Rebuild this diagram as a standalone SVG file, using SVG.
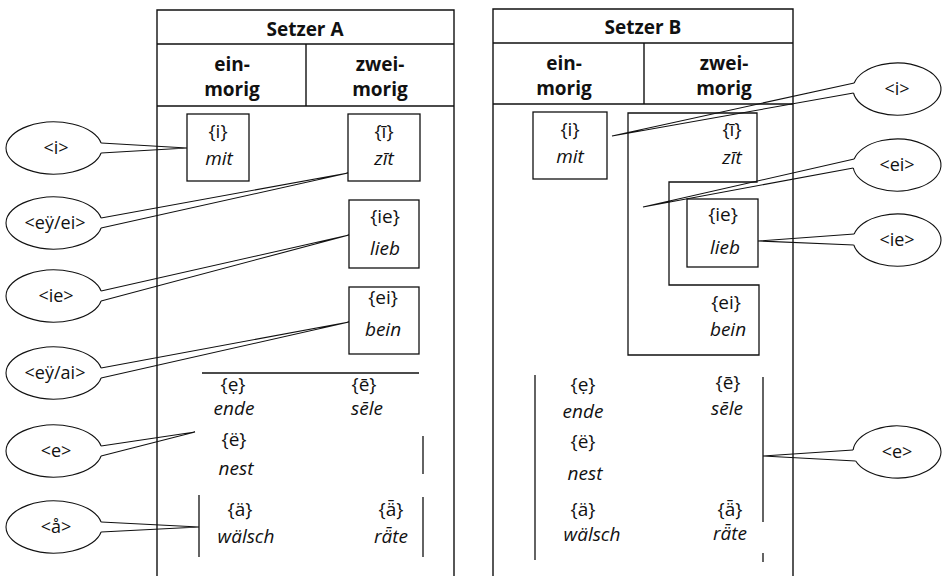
<svg xmlns="http://www.w3.org/2000/svg" width="945" height="576" viewBox="0 0 945 576">
<style>
.fr{fill:none;stroke:#111;stroke-width:1.4}
.bx{fill:none;stroke:#111;stroke-width:1.3}
.ln{fill:none;stroke:#111;stroke-width:1.3}
.el{fill:none;stroke:#111;stroke-width:1.1}
.cn{fill:none;stroke:#111;stroke-width:1.1;stroke-linejoin:miter}
text{font-family:"Open Sans","Noto Sans","DejaVu Sans",sans-serif;font-size:19px;fill:#111;text-anchor:middle}
.h{font-weight:700}
.it{font-style:italic}
.lb{font-size:18px}
</style>
<rect width="945" height="576" fill="#fff"/>

<g id="setzer-a">
<path class="fr" d="M157,576 V10 H454 V576 M157,44 H454 M157,106 H454 M306,44 V106"/>
<text class="h" x="305" y="36">Setzer A</text>
<text class="h" x="232" y="71">ein-</text>
<text class="h" x="232" y="96">morig</text>
<text class="h" x="380" y="71">zwei-</text>
<text class="h" x="380" y="96">morig</text>
</g>

<g id="a-mit">
<rect class="bx" x="187" y="114" width="62" height="67"/>
<text x="218" y="138">{i}</text>
<text class="it" x="219" y="165">mit</text>
</g>
<g id="a-zit">
<rect class="bx" x="348" y="114" width="72" height="67"/>
<text x="384" y="138">{ī}</text>
<text class="it" x="384" y="165">zīt</text>
</g>
<g id="a-lieb">
<rect class="bx" x="349" y="200" width="70" height="68"/>
<text x="385" y="223">{ie}</text>
<text class="it" x="385" y="255">lieb</text>
</g>
<g id="a-bein">
<rect class="bx" x="349" y="287" width="70" height="67"/>
<text x="383" y="304">{ei}</text>
<text class="it" x="383" y="336">bein</text>
</g>
<g id="a-lower">
<path class="ln" d="M202,373 H419 M423,436 V474 M199,495 V557 M423,497 V557"/>
<text x="233" y="391">{ẹ}</text>
<text class="it" x="234" y="415">ende</text>
<text x="364" y="391">{ē}</text>
<text class="it" x="367" y="415">sēle</text>
<text x="234" y="446">{ë}</text>
<text class="it" x="236" y="475">nest</text>
<text x="240" y="516">{ä}</text>
<text class="it" x="246" y="543">wälsch</text>
<text x="391" y="516">{ǟ}</text>
<text class="it" x="391" y="543">rǟte</text>
</g>

<g id="setzer-b">
<path class="fr" d="M493,576 V9 H793 V576 M493,43 H793 M493,104 H793 M644,43 V104"/>
<text class="h" x="643" y="34">Setzer B</text>
<text class="h" x="564" y="70">ein-</text>
<text class="h" x="564" y="95">morig</text>
<text class="h" x="724" y="70">zwei-</text>
<text class="h" x="724" y="95">morig</text>
</g>

<g id="b-mit">
<rect class="bx" x="533" y="112" width="74" height="67"/>
<text x="570" y="136">{i}</text>
<text class="it" x="570" y="163">mit</text>
</g>
<g id="b-ei-region">
<path class="bx" d="M628,113 H757 V182 H669 V285 H759 V355 H628 Z"/>
<text x="732" y="136">{ī}</text>
<text class="it" x="732" y="164">zīt</text>
<text x="726" y="309">{ei}</text>
<text class="it" x="728" y="336">bein</text>
</g>
<g id="b-lieb">
<rect class="bx" x="687" y="199" width="71" height="68"/>
<text x="723" y="221">{ie}</text>
<text class="it" x="725" y="254">lieb</text>
</g>
<g id="b-lower">
<path class="ln" d="M535,375 V560 M763,377 V522 M763,553 V562"/>
<text x="583" y="391">{ẹ}</text>
<text class="it" x="583" y="418">ende</text>
<text x="728" y="389">{ē}</text>
<text class="it" x="727" y="415">sēle</text>
<text x="583" y="448">{ë}</text>
<text class="it" x="585" y="480">nest</text>
<text x="583" y="516">{ä}</text>
<text class="it" x="592" y="541">wälsch</text>
<text x="730" y="516">{ǟ}</text>
<text class="it" x="730" y="540">rǟte</text>
</g>

<g id="callout-a-i">
<path class="el" d="M101.1,143 A48,26 0 1 0 101.1,153"/>
<text class="lb" x="56" y="154">&lt;i&gt;</text>
</g>
<g id="callout-a-eyei">
<path class="el" d="M101.1,218 A48,26 0 1 0 101.1,228"/>
<text class="lb" x="55" y="229">&lt;eÿ/ei&gt;</text>
</g>
<g id="callout-a-ie">
<path class="el" d="M101.1,291 A48,26 0 1 0 101.1,301"/>
<text class="lb" x="56" y="302">&lt;ie&gt;</text>
</g>
<g id="callout-a-eyai">
<path class="el" d="M101.1,368 A48,26 0 1 0 101.1,378"/>
<text class="lb" x="55" y="379">&lt;eÿ/ai&gt;</text>
</g>
<g id="callout-a-e">
<path class="el" d="M101.1,446 A48,26 0 1 0 101.1,456"/>
<text class="lb" x="56" y="457">&lt;e&gt;</text>
</g>
<g id="callout-a-aa">
<path class="el" d="M101.1,522 A48,26 0 1 0 101.1,532"/>
<text class="lb" x="56" y="533">&lt;å&gt;</text>
</g>
<g id="callout-b-i">
<path class="el" d="M854.2,83 A44,26 0 1 1 853.5,93"/>
<text class="lb" x="897" y="95">&lt;i&gt;</text>
</g>
<g id="callout-b-ei">
<path class="el" d="M854.2,159 A44,26 0 1 1 853.3,168"/>
<text class="lb" x="897" y="171">&lt;ei&gt;</text>
</g>
<g id="callout-b-ie">
<path class="el" d="M854.2,234 A44,26 0 1 1 853.8,245"/>
<text class="lb" x="897" y="246">&lt;ie&gt;</text>
</g>
<g id="callout-b-e">
<path class="el" d="M853.1,450 A44,26 0 1 1 855.7,461"/>
<text class="lb" x="897" y="458">&lt;e&gt;</text>
</g>

<g id="connectors">
<path class="cn" d="M101.1,143 L187,148 L101.1,153"/>
<path class="cn" d="M101.1,218 L348,173 L101.1,228"/>
<path class="cn" d="M101.1,291 L349,235 L101.1,301"/>
<path class="cn" d="M101.1,368 L349,322 L101.1,378"/>
<path class="cn" d="M101.1,446 L195,432 L101.1,456"/>
<path class="cn" d="M101.1,522 L199,527 L101.1,532"/>
<path class="cn" d="M854.2,83 L612,136 L853.5,93"/>
<path class="cn" d="M854.2,159 L643,207 L853.3,168"/>
<path class="cn" d="M854.2,234 L758,241 L853.8,245"/>
<path class="cn" d="M853.1,450 L763,456 L855.7,461"/>
</g>
</svg>
